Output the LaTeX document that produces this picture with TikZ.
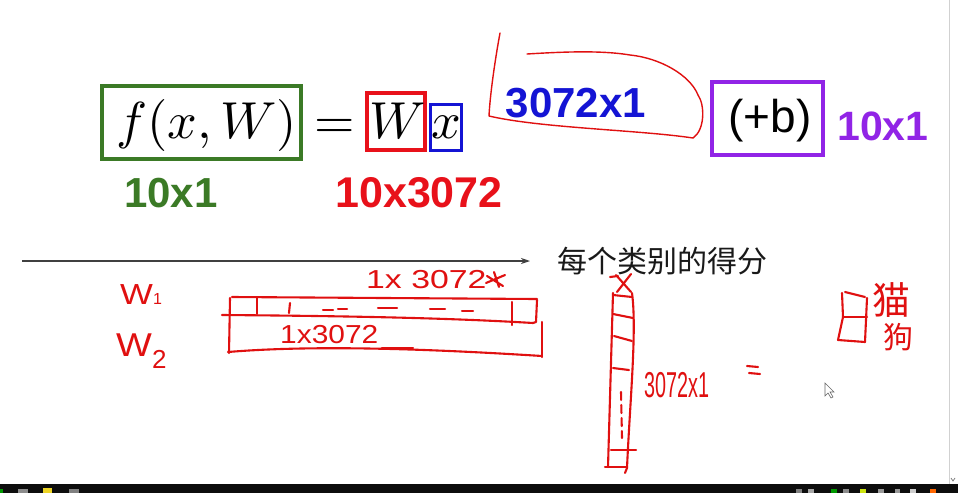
\documentclass[tikz,border=0pt]{standalone}
\usepackage{fontspec}
\newfontfamily\arial{Liberation Sans}
\newfontfamily\cjk{Noto Sans CJK SC}
\usetikzlibrary{arrows.meta}
\definecolor{gboxc}{HTML}{3B7A26}
\definecolor{rboxc}{HTML}{E8111A}
\definecolor{bboxc}{HTML}{1414D4}
\definecolor{pboxc}{HTML}{9124E6}
\definecolor{pen}{HTML}{E01010}
\definecolor{darkbar}{HTML}{0D0D0D}
\newcommand{\bigmath}[1]{\scalebox{5.2}{\fontsize{10}{12}\selectfont$#1$}}
\begin{document}
\begin{tikzpicture}[x=1pt,y=-1pt,
  pen/.style={draw=pen, line width=2.1pt, line cap=round, line join=round},
  mathtxt/.style={anchor=base, inner sep=0},
  lbl/.style={anchor=base, inner sep=0, font=\arial\bfseries\fontsize{42}{48}\selectfont},
  hand/.style={inner sep=0, text=pen, font=\arial\fontsize{26}{28}\selectfont},
  framebox/.style={draw, inner sep=0}]
\useasboundingbox (0,0) rectangle (958,493);
\fill[white] (0,0) rectangle (958,493);

% boxes
\node (gbox) [framebox, draw=gboxc, line width=4pt, minimum width=199pt, minimum height=73pt] at (201.5,122.5) {};
\node (rbox) [framebox, draw=rboxc, line width=4pt, minimum width=58pt, minimum height=57pt] at (396,121.5) {};
\node (bbox) [framebox, draw=bboxc, line width=3pt, minimum width=31pt, minimum height=46pt] at (446,127.5) {};
\node (pbox) [framebox, draw=pboxc, line width=4pt, minimum width=111pt, minimum height=73pt] at (767.5,118.5) {};

% formula
\node (fxw) [mathtxt] at (206.5,138) {\bigmath{f(x,W)}};
\node (eq) [mathtxt] at (335,138) {\bigmath{=}};
\node (wsym) [mathtxt] at (398,138) {\bigmath{W}};
\node (xsym) [mathtxt] at (446,138) {\bigmath{x}};
\node (plusb) [anchor=base, inner sep=0, font=\arial\fontsize{46}{50}\selectfont] at (770,132) {(+b)};

% dimension labels
\node (dimf) [lbl, text=gboxc] at (171,207) {10x1};
\node (dimw) [lbl, text=rboxc, font=\arial\bfseries\fontsize{43}{48}\selectfont] at (419,207) {10x3072};
\node (dimx) [lbl, text=bboxc] at (576,117) {3072x1};
\node (dimb) [lbl, text=pboxc, font=\arial\bfseries\fontsize{41}{46}\selectfont] at (883,140) {10x1};

% red loop around 3072x1
\draw[pen, line width=1.4pt] (500,33) .. controls (495,60) and (490,95) .. (489,116)
  .. controls (540,128) and (640,130) .. (693,138)
  .. controls (705,130) and (705,105) .. (698,95)
  .. controls (690,75) and (660,58) .. (630,55)
  .. controls (600,50) and (560,52) .. (527,54);

% axis arrow and caption
\coordinate (axisL) at (22,261);
\coordinate (axisR) at (530,261);
\draw[draw=black!75, line width=1.1pt, -{Stealth[length=9pt,width=6pt]}] (axisL) -- (axisR);
\node (score) [anchor=west, inner sep=0, text=black!90, font=\cjk\fontsize{30}{32}\selectfont] at (557,261) {每个类别的得分};

% handwritten labels W1, W2
\node (w1) [hand, anchor=base west, font=\arial\fontsize{29}{30}\selectfont] at (120,304) {\scalebox{1.2}[1]{W}\raisebox{0pt}{\fontsize{16}{16}\selectfont 1}};
\node (w2) [hand, anchor=base west, font=\arial\fontsize{33}{34}\selectfont] at (116,356) {\scalebox{1.15}[1]{W}\raisebox{-12pt}{\fontsize{26}{26}\selectfont 2}};

% handwritten 1x3072 above
\node (topdim) [hand, anchor=base west] at (366,288) {\scalebox{1.3}[1]{1x 3072}};
\draw[pen] (486,283) -- (505,275) (487,276) -- (503,286) (494,272) -- (499,287);

% matrix W rows
\draw[pen] (232,297) -- (537,299);
\draw[pen] (222,315) .. controls (350,316) and (450,318) .. (533,323);
\draw[pen] (230,298) -- (229,353);
\draw[pen] (257,298) -- (257,314);
\draw[pen] (290,303) -- (289,313);
\draw[pen] (323,310) -- (333,310) (338,309) -- (347,309) (378,308) -- (397,308) (430,309) -- (445,309) (462,311) -- (473,311);
\draw[pen] (512,302) -- (512,325);
\draw[pen] (537,300) -- (536,322) -- (533,323);
\draw[pen] (542,322) -- (542,357);
\draw[pen] (228,352) .. controls (300,346) and (400,347) .. (542,356);
\node (rowdim) [hand, anchor=base west] at (280,343) {\scalebox{1.15}[1]{1x3072}};
\draw[pen] (382,348) -- (413,348);

% column vector x
\draw[pen] (613,293) -- (608,467);
\draw[pen] (632,293) .. controls (637,330) and (630,400) .. (627,468) -- (625,473);
\draw[pen] (616,275) -- (631,292) (631,274) -- (617,292) (610,277) -- (618,276);
\draw[pen] (613,295) -- (632,297) (613,314) -- (633,318) (614,336) -- (632,341) (613,368) -- (629,370);
\draw[pen, dash pattern=on 8pt off 5pt] (621,392) -- (622,438);
\draw[pen] (611,450) -- (636,450);
\draw[pen] (605,467) -- (627,467);
\node (coldim) [hand, anchor=base west, font=\arial\fontsize{36}{38}\selectfont] at (644,397) {\scalebox{0.55}[1]{3072x1}};

% equals sign
\draw[pen] (747,366) -- (758,367) (749,373) -- (760,374);

% score vector and classes
\draw[pen] (845,292) -- (865,297);
\draw[pen] (842,293) -- (843,317) -- (838,340) -- (865,342) -- (867,298);
\draw[pen] (843,317) -- (867,317);
\node (cat) [inner sep=0, text=pen, font=\cjk\fontsize{38}{40}\selectfont] at (891,300) {猫};
\node (dog) [inner sep=0, text=pen, font=\cjk\fontsize{30}{32}\selectfont] at (898,337) {狗};

% mouse cursor
\draw[black!60, fill=white, line width=0.6pt] (825,383) -- (825,396) -- (828,393) -- (831,398) -- (833,397) -- (830,392) -- (834,392) -- cycle;

% scrollbar
\draw[black!18, line width=1pt] (949,0) -- (949,484);
\draw[black!50, line width=0.8pt] (951,478) -- (953,481) -- (955,478);

% taskbar
\fill[darkbar] (0,484) rectangle (958,493);
\fill[green!60!black] (0,489) rectangle (3,493);
\fill[black!45] (18,489) rectangle (28,493);
\fill[yellow!70!brown] (43,488) rectangle (52,493);
\fill[black!50] (69,489) rectangle (79,493);
\fill[black!50] (796,489) rectangle (802,493);
\fill[black!35] (808,489) rectangle (814,493);
\fill[green!60!black] (831,489) rectangle (837,493);
\fill[black!45] (843,489) rectangle (849,493);
\fill[yellow!80!green] (860,489) rectangle (866,493);
\fill[black!40] (878,489) rectangle (884,493);
\fill[black!40] (895,489) rectangle (900,493);
\fill[white!80!black] (910,489) rectangle (916,493);
\fill[orange!80!red] (930,489) rectangle (936,493);
\end{tikzpicture}
\end{document}
